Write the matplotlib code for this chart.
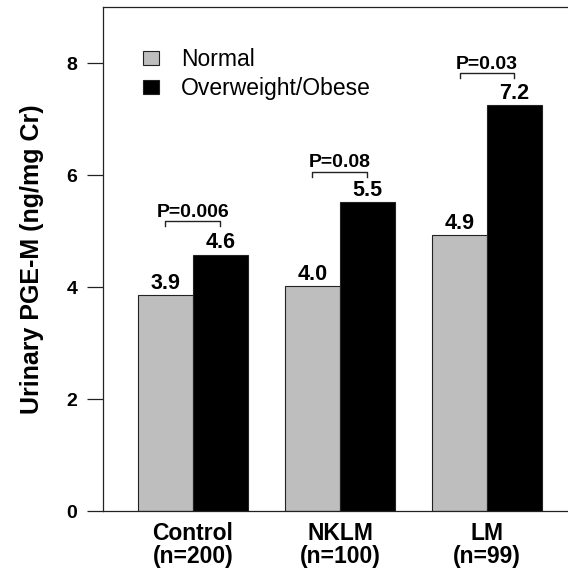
import numpy as np
import matplotlib
matplotlib.use("Agg")
import matplotlib.pyplot as plt

plt.rcParams['font.family'] = ['Liberation Sans', 'DejaVu Sans']

# data
groups = ['Control\n(n=200)', 'NKLM\n(n=100)', 'LM\n(n=99)']
normal = [3.85, 4.01, 4.93]
obese = [4.58, 5.51, 7.25]
normal_lbl = ['3.9', '4.0', '4.9']
obese_lbl = ['4.6', '5.5', '7.2']
p_text = ['P=0.006', 'P=0.08', 'P=0.03']
p_height = [5.18, 6.06, 7.82]

fig = plt.figure(figsize=(5.68, 5.78), dpi=100)
ax = fig.add_axes([103/568, 67/578, 465/568, 504/578])

x = np.arange(len(groups))
w = 0.374
ax.bar(x - w/2, normal, w, color='#bebebe', edgecolor='#222222', linewidth=0.8, label='Normal')
ax.bar(x + w/2, obese, w, color='black', edgecolor='#222222', linewidth=0.8, label='Overweight/Obese')

# value labels
for i in range(len(groups)):
    ax.annotate(normal_lbl[i], (x[i] - w/2, normal[i]), xytext=(0, 4.5), textcoords='offset points',
                ha='center', va='baseline', fontsize=15.5, fontweight='bold')
    ax.annotate(obese_lbl[i], (x[i] + w/2, obese[i]), xytext=(0, 4.5), textcoords='offset points',
                ha='center', va='baseline', fontsize=15.5, fontweight='bold')
    # p-value brackets
    y = p_height[i]
    ax.plot([x[i] - w/2, x[i] - w/2, x[i] + w/2, x[i] + w/2], [y - 0.09, y, y, y - 0.09],
            color='#222222', lw=1)
    ax.annotate(p_text[i], (x[i], y), xytext=(0, 3), textcoords='offset points',
                ha='center', va='baseline', fontsize=14, fontweight='bold')

ax.set_xlim(-0.612, 2.551)
ax.set_ylim(0, 9)
ax.set_yticks([0, 2, 4, 6, 8])
ax.set_xticks(x)
ax.set_xticklabels(groups, fontsize=16.5, fontweight='bold', linespacing=1.0)
for t in ax.get_yticklabels():
    t.set_fontweight('bold')
    t.set_fontsize(14)
ax.tick_params(axis='y', length=11.5, width=0.9, pad=7, color='#222222')
ax.tick_params(axis='x', length=0, pad=8)
ax.spines['right'].set_visible(False)
for s in ['left', 'top', 'bottom']:
    ax.spines[s].set_linewidth(0.9)
    ax.spines[s].set_color('#222222')

ax.set_ylabel('Urinary PGE-M (ng/mg Cr)', fontsize=18, fontweight='bold', labelpad=16)

ax.legend(loc='upper left', bbox_to_anchor=(0.086, 0.918), frameon=False, fontsize=16.5,
          handlelength=0.7, handleheight=0.55, handletextpad=0.95, labelspacing=0.25, borderpad=0,
          borderaxespad=0)

fig.savefig('out.png', dpi=100)
